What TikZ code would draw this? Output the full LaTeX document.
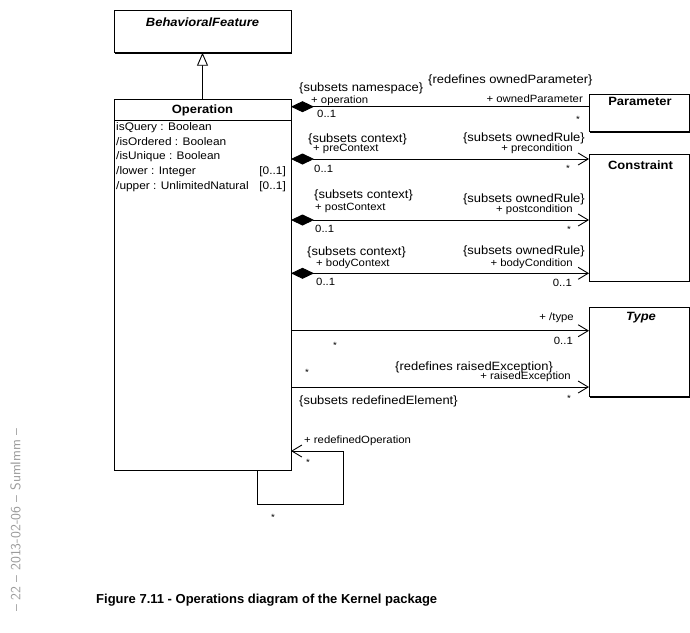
\documentclass[tikz,border=0pt]{standalone}
\usepackage{fontspec}
\setmainfont{Liberation Sans}
\newfontfamily\umlfont[FakeStretch=1.08]{Liberation Sans}
\usetikzlibrary{arrows.meta,shadows}

\tikzset{
  umlbox/.style={draw, line width=0.9pt, fill=white, inner sep=0pt, outer sep=0pt,
    anchor=north west,
    drop shadow={shadow xshift=1.1pt, shadow yshift=-1.1pt, fill=black, opacity=1}},
  classname/.style={font=\umlfont\bfseries\fontsize{12}{14}\selectfont, inner sep=0pt},
  abstractname/.style={font=\umlfont\bfseries\itshape\fontsize{12}{14}\selectfont, inner sep=0pt},
  attr/.style={font=\umlfont\fontsize{11}{13}\selectfont, inner sep=0pt,
    text height=7.8pt, text depth=2.1pt},
  role/.style={font=\umlfont\fontsize{10.5}{12}\selectfont, inner sep=0pt,
    text height=7.5pt, text depth=2pt},
  cons/.style={font=\umlfont\fontsize{12}{14}\selectfont, inner sep=0pt,
    text height=8.6pt, text depth=2.4pt},
  mult/.style={role},
  star/.style={font=\umlfont\fontsize{9}{10}\selectfont, inner sep=0pt, yshift=-2pt},
  conn/.style={line width=0.9pt},
  comp/.style={conn, {Diamond[length=23pt,width=11pt]}-},
  compnav/.style={conn, {Diamond[length=23pt,width=11pt]}-{Straight Barb[length=10pt,width=12pt]}},
  nav/.style={conn, -{Straight Barb[length=10pt,width=12pt]}},
  gen/.style={conn, -{Triangle[open,length=13pt,width=11pt,fill=white]}},
}

\begin{document}
\begin{tikzpicture}[x=1pt,y=-1pt]
\useasboundingbox (0,0) rectangle (690,632);

% classes
\node[umlbox, minimum width=177pt, minimum height=42pt] (bf) at (114,10.7) {};
\node[abstractname] (bfname) at (202.5,22.7) {BehavioralFeature};

\node[umlbox, minimum width=177pt, minimum height=371pt] (op) at (114,99) {};
\node[classname] (opname) at (202.5,110) {Operation};
\coordinate (opsep) at (0,120.7);
\draw[line width=0.9pt] (op.west |- opsep) -- (op.east |- opsep);

\node[attr, anchor=west] (a1) at (116,127.5) {isQuery : Boolean};
\node[attr, anchor=west] (a2) at (116,142.3) {/isOrdered : Boolean};
\node[attr, anchor=west] (a3) at (116,157.1) {/isUnique : Boolean};
\node[attr, anchor=west] (a4) at (116,171.9) {/lower : Integer};
\node[attr, anchor=east] (a4m) at (286,171.9) {[0..1]};
\node[attr, anchor=west] (a5) at (116,186.7) {/upper : UnlimitedNatural};
\node[attr, anchor=east] (a5m) at (286,186.7) {[0..1]};

\node[umlbox, minimum width=100pt, minimum height=37.7pt] (param) at (589,94) {};
\node[classname] (paramname) at (640,101.7) {Parameter};

\node[umlbox, minimum width=100pt, minimum height=127pt] (con) at (589,154) {};
\node[classname] (conname) at (640.5,165) {Constraint};

\node[umlbox, minimum width=100pt, minimum height=89.7pt] (type) at (589,307) {};
\node[abstractname] (typename) at (641,318) {Type};

% generalization
\draw[gen] (op.north) -- (bf.south);

% connector end points on the target classes
\coordinate (pIn) at ([yshift=-12.7pt]param.north west);
\coordinate (preIn) at ([yshift=-5pt]con.north west);
\coordinate (postIn) at ([yshift=-66pt]con.north west);
\coordinate (bodyIn) at ([yshift=-119.3pt]con.north west);
\coordinate (tIn) at ([yshift=-23.7pt]type.north west);
\coordinate (exIn) at ([yshift=-80pt]type.north west);

% ownedParameter
\draw[comp] (op.east |- pIn) -- (pIn);
\node[cons, anchor=west] (l1a) at (299,88.3) {\{subsets namespace\}};
\node[role, anchor=west] (l1b) at (311,100.7) {+ operation};
\node[mult, anchor=west] (l1c) at (317,115) {0..1};
\node[cons, anchor=west] (l1d) at (428,80) {\{redefines ownedParameter\}};
\node[role, anchor=east] (l1e) at (583,99.3) {+ ownedParameter};
\node[star] (l1f) at (578,117) {*};

% precondition
\draw[compnav] (op.east |- preIn) -- (preIn);
\node[cons, anchor=west] (l2a) at (308,139.3) {\{subsets context\}};
\node[role, anchor=west] (l2b) at (313,148.3) {+ preContext};
\node[mult, anchor=west] (l2c) at (314,170) {0..1};
\node[cons, anchor=east] (l2d) at (585,138) {\{subsets ownedRule\}};
\node[role, anchor=east] (l2e) at (573,149) {+ precondition};
\node[star] (l2f) at (568,166) {*};

% postcondition
\draw[compnav] (op.east |- postIn) -- (postIn);
\node[cons, anchor=west] (l3a) at (314,195) {\{subsets context\}};
\node[role, anchor=west] (l3b) at (315,208) {+ postContext};
\node[mult, anchor=west] (l3c) at (315,230) {0..1};
\node[cons, anchor=east] (l3d) at (585,199) {\{subsets ownedRule\}};
\node[role, anchor=east] (l3e) at (573,210) {+ postcondition};
\node[star] (l3f) at (569,227) {*};

% bodyCondition
\draw[compnav] (op.east |- bodyIn) -- (bodyIn);
\node[cons, anchor=west] (l4a) at (307,252.3) {\{subsets context\}};
\node[role, anchor=west] (l4b) at (316,264) {+ bodyContext};
\node[mult, anchor=west] (l4c) at (316,283) {0..1};
\node[cons, anchor=east] (l4d) at (585,251.7) {\{subsets ownedRule\}};
\node[role, anchor=east] (l4e) at (573,264) {+ bodyCondition};
\node[mult, anchor=east] (l4f) at (572,284) {0..1};

% type
\draw[nav] (op.east |- tIn) -- (tIn);
\node[role, anchor=east] (l5a) at (574,318) {+ /type};
\node[mult, anchor=east] (l5b) at (573,341.7) {0..1};
\node[star] (l5c) at (335,343) {*};

% raisedException
\draw[nav] (op.east |- exIn) -- (exIn);
\node[star] (l6a) at (307,370) {*};
\node[cons, anchor=west] (l6b) at (395,367.7) {\{redefines raisedException\}};
\node[role, anchor=east] (l6c) at (571,377) {+ raisedException};
\node[star] (l6d) at (569,396) {*};
\node[cons, anchor=west] (l6e) at (299,401) {\{subsets redefinedElement\}};

% redefinedOperation (self association)
\coordinate (loopA) at ([xshift=-34pt]op.south east);
\coordinate (loopB) at ([xshift=-34pt,yshift=-34pt]op.south east);
\coordinate (loopC) at ([xshift=52pt,yshift=-34pt]op.south east);
\coordinate (loopD) at ([xshift=52pt,yshift=19pt]op.south east);
\coordinate (loopE) at ([yshift=19pt]op.south east);
\draw[nav] (loopA) -- (loopB) -- (loopC) -- (loopD) -- (loopE);
\node[role, anchor=west] (l7a) at (304,440.7) {+ redefinedOperation};
\node[star] (l7b) at (308,460) {*};
\node[star] (l7c) at (273,515) {*};

% caption and margin note
\node[font=\bfseries\fontsize{13}{15}\selectfont, anchor=west, inner sep=0pt] (caption)
  at (96,600) {Figure 7.11 - Operations diagram of the Kernel package};
\node[font=\sffamily\fontsize{14}{16}\selectfont, text=black!40, rotate=90, inner sep=0pt] (margin)
  at (15.5,520) {– 22 – 2013-02-06 – SumImm –};
\end{tikzpicture}
\end{document}
